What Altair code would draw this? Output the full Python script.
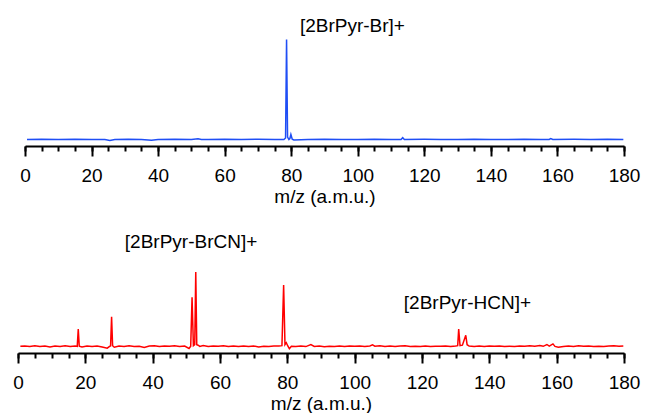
import altair as alt
import pandas as pd

FONT = "Liberation Sans"

# Top spectrum (blue)
top_mz = [0.6, 5, 10, 15, 20, 24, 25.5, 27, 31, 35, 38, 40, 45, 50, 52, 53, 55, 60, 65, 70, 75,
          77.8, 78.3, 78.6, 78.9, 79.3, 79.6, 79.9, 80.3, 80.8, 85, 90, 95, 100, 105, 110, 113.0,
          113.5, 114.0, 120, 125, 130, 135, 140, 145, 150, 155, 157.5, 158, 158.6, 165, 170, 175, 179.8]
top_int = [0, 0.3, 0, 0.2, 0, 0, -0.9, 0, 0.2, 0, -0.7, 0, 0.2, 0, 0.7, 0, 0, 0.2, 0, 0.2, 0,
           0, 1.5, 100, 2.5, 0, 1.0, 5, 0.3, -0.5, 0, 0.2, 0, 0, 0.2, 0, 0,
           1.8, 0, 0.2, 0, 0, 0.2, 0, 0, 0.2, 0, 0, 1.0, 0, 0.2, 0, 0.2, 0]

# Bottom spectrum (red)
bot_mz = [0.7, 2, 3.5, 5, 6.5, 8, 9.5, 11, 12.5, 14, 15.5, 17, 17.6, 17.9, 18.2, 19, 20.5, 22, 23.5,
          25, 26.5, 27.2, 27.5, 27.8, 28.1, 28.6, 30, 31.5, 33, 34.5, 36, 37.5, 39, 40.5, 42, 43.5,
          45, 46.5, 48, 49.5, 50.8, 51.3, 51.7, 52.1, 52.5, 52.8, 53.1, 53.5, 54, 55, 56.5, 58, 59.5,
          61, 62.5, 64, 65.5, 67, 68.5, 70, 71.5, 73, 74.5, 76, 77.5, 78.4, 78.9, 79.3, 79.7, 80.1,
          80.6, 81.2, 82.5, 84, 85.5, 87, 88, 89.5, 91, 92.5, 94, 95.5, 97, 98.5, 100, 101.5, 103,
          104.5, 105.3, 106, 107.5, 109, 110.5, 112, 113.5, 115, 116.5, 118, 119.5, 121, 122.5, 124,
          125.5, 127, 128.5, 130, 130.6, 130.9, 131.3, 132, 133.0, 133.4, 134, 135.5, 137, 138.5,
          140, 141.5, 143, 144.5, 146, 147.5, 149, 150.5, 152, 153.5, 155, 156, 157.1, 157.8, 158.9,
          159.5, 160.5, 162, 163.5, 165, 166.5, 168, 169.5, 171, 172.5, 174, 175.5, 177, 178.5, 179.8]
bot_int = [0.5, 0.8, 0.2, 0.9, 0.1, 0.6, -0.2, 0.7, 0.3, 0.9, 0.1, 0.6, 0.3, 17.7, 0.5, -0.3, 0.8, 0.2, 0.7,
           -0.2, -1.5, 0.4, 0.8, 30, 1.0, -0.5, 0.6, 0.2, 1.0, 0.3, 0.5, -0.8, 0.6, 0.9, 0.2, 0.7,
           0.4, 1.0, 0.3, 0.6, -1.8, 0.5, 49.4, 1.0, 2.0, 74.7, 2.0, 1.5, 0.3, 1.2, 0.2, 0.7, 0.4,
           0.9, 0.1, 0.6, 0.3, 0.8, 0.2, 0.7, -0.2, 0.5, 0.3, 0.7, 0.6, 1.0, 61.7, 2.0, 4.0, 1.0,
           -2.0, 0.5, 0.2, 0.6, 0.1, 2.2, 0.3, 0.6, 0.0, 0.5, 0.3, 0.6, 0.2, 0.7, 0.4, 0.6, 0.2,
           0.8, 1.8, 0.5, 0.9, 0.2, 0.6, 0.3, 0.7, 0.9, 0.3, 0.5, 0.1, 0.6, 0.2, 0.5,
           0.4, 0.7, 0.3, 0.6, 1.0, 17.7, 1.0, 1.5, 11.4, 2.0, 0.6, 0.2, 0.6, 0.3,
           0.7, 0.4, 0.6, 0.2, 0.5, 0.3, 0.6, 0.4, 1.0, 0.5, 1.2, 0.4, 2.2, 0.5, 2.8,
           0.3, -0.5, 0.2, 0.6, 0.3, 1.0, 0.4, 0.6, 0.2, 0.5, 0.3, 0.8, 1.0, 0.5, 0.8]

# Annotations
top_labels = ["[2BrPyr-Br]+"]
top_label_mz = [98.4]
top_label_y = [114.0]
bot_labels = ["[2BrPyr-BrCN]+", "[2BrPyr-HCN]+"]
bot_label_mz = [51.4, 133.5]
bot_label_y = [105.0, 43.5]

major_ticks = list(range(0, 181, 20))
minor_ticks = list(range(0, 181, 5))

W = 606
H_TOP = 133
H_BOT = 137


def panel(mz, inten, color, labels, lmz, ly, height, ydom, xrange):
    df = pd.DataFrame({"mz": mz, "i": inten})
    ldf = pd.DataFrame({"mz": lmz, "i": ly, "t": labels})
    xs = alt.Scale(domain=[0, 180], range=xrange, nice=False, zero=False)
    ys = alt.Scale(domain=ydom, nice=False, zero=False)
    noy = alt.Axis(labels=False, ticks=False, domain=False, grid=False, title=None)
    minor = alt.Chart(df).mark_line(opacity=0).encode(
        x=alt.X("mz:Q", scale=xs, axis=alt.Axis(orient="bottom", values=minor_ticks, tickSize=5,
                                                 tickWidth=2, tickColor="black", labels=False,
                                                 domain=False, grid=False, title=None)),
        y=alt.Y("i:Q", scale=ys, axis=noy),
    )
    line = alt.Chart(df).mark_line(color=color, strokeWidth=1.5, clip=False).encode(
        x=alt.X("mz:Q", scale=xs, axis=alt.Axis(orient="bottom", values=major_ticks, tickSize=10,
                                                 tickWidth=2, tickColor="black",
                                                 domainColor="black", domainWidth=2,
                                                 labelFont=FONT, labelFontSize=19,
                                                 labelColor="black", labelPadding=10, grid=False,
                                                 title="m/z (a.m.u.)", titleFont=FONT,
                                                 titleFontSize=19, titleFontWeight="normal",
                                                 titleColor="black", titlePadding=2,
                                                 labelFlush=False)),
        y=alt.Y("i:Q", scale=ys, axis=noy),
    )
    text = alt.Chart(ldf).mark_text(font=FONT, fontSize=19, color="black", align="center",
                                    baseline="middle").encode(
        x=alt.X("mz:Q", scale=xs, axis=None), y=alt.Y("i:Q", scale=ys, axis=None), text="t:N")
    return alt.layer(minor, line, text).resolve_axis(x="independent").properties(
        width=W, height=height)


top = panel(top_mz, top_int, "#1f4ef5", top_labels, top_label_mz, top_label_y,
            H_TOP, [-6.5, H_TOP - 6.5], [7, W])
bot = panel(bot_mz, bot_int, "#ff0000", bot_labels, bot_label_mz, bot_label_y,
            H_BOT, [-6.3, H_BOT - 6.3], [0, W])

chart = alt.vconcat(top, bot, spacing=10).properties(
    padding={"left": 4, "top": 5, "right": 5, "bottom": 0}
).configure_view(stroke=None).configure_axis(grid=False)

chart.save("out.html", embed_options={"renderer": "svg", "actions": False})
